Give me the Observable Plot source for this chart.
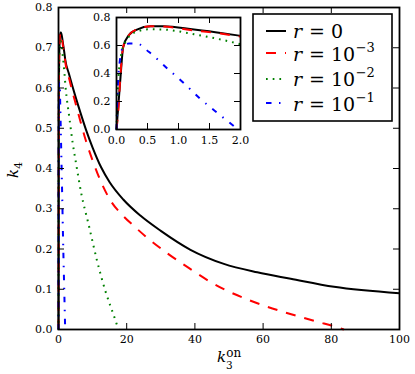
<!DOCTYPE html>
<html><head><meta charset="utf-8">
<script src="https://cdn.jsdelivr.net/npm/d3@7"></script>
<script src="https://cdn.jsdelivr.net/npm/@observablehq/plot@0.6"></script>
<style>
body{margin:0;background:#fff;}
#wrap{position:relative;width:415px;height:374px;font-family:"DejaVu Serif","Liberation Serif",serif;}
#wrap svg{position:absolute;}
</style></head><body><div id="wrap"></div>
<script>
// ---- data ----
const seriesNames = ["r = 0", "r = 10^-3", "r = 10^-2", "r = 10^-1"];
const seriesBase = ["0", "10", "10", "10"];
const seriesExp = ["", "\u22123", "\u22122", "\u22121"];
const seriesColors = ["#000000", "#ff0000", "#008000", "#0000ff"];

const k3_r0 = [0,0.065,0.108,0.2,0.33,0.55,0.76,1.25,1.68,2.0,3,4,5,6.5,8,10,12.5,15,19,24,30,38.7,48.5,58.3,68.1,80.8,100];
const k4_r0 = [0,0.376,0.59,0.674,0.714,0.738,0.738,0.714,0.69,0.669,0.637,0.607,0.578,0.537,0.498,0.452,0.403,0.366,0.323,0.283,0.245,0.198,0.163,0.142,0.126,0.106,0.090];

const k3_r3 = [0,0.03,0.065,0.108,0.2,0.33,0.55,0.76,1.25,1.68,2.0,3,4,5,6.5,8,10,12.5,15,19,22,26,31.8,38.7,44.4,49.5,55.3,60.7,66.6,71,76,80.8,83.7];
const k4_r3 = [0,0.14,0.40,0.59,0.675,0.715,0.737,0.735,0.708,0.685,0.664,0.628,0.594,0.562,0.515,0.47,0.42,0.366,0.324,0.282,0.258,0.228,0.19,0.15,0.119,0.096,0.075,0.058,0.042,0.031,0.019,0.008,0];

const k3_r2 = [0,0.02,0.065,0.15,0.33,0.55,0.76,1.25,1.68,2.0,3.2,4.2,5.2,6.7,8.8,11.3,13.7,16.2,17.6];
const k4_r2 = [0,0.28,0.507,0.63,0.70,0.716,0.714,0.68,0.643,0.609,0.525,0.461,0.41,0.337,0.262,0.171,0.097,0.035,0];

const k3_r1 = [0,0.02,0.03,0.108,0.2,0.33,0.52,0.82,1.09,1.35,1.68,1.96];
const k4_r1 = [0,0.30,0.39,0.59,0.614,0.614,0.555,0.436,0.33,0.22,0.10,0];

const xTicksMain = [0,20,40,60,80,100];
const yTicksMain = [0,0.1,0.2,0.3,0.4,0.5,0.6,0.7,0.8];
const xTicksInset = [0,0.5,1.0,1.5,2.0];
const yTicksInset = [0,0.2,0.4,0.6,0.8];

// ---- styles ----
const dashes = [null, "10,9", "1.7,5", "5.5,7.5,1.5,7.5"];
const lineW = 2;

const allK3 = [k3_r0, k3_r3, k3_r2, k3_r1];
const allK4 = [k4_r0, k4_r3, k4_r2, k4_r1];
const tables = allK3.map((xs, i) => xs.map((x, j) => ({k3: x, k4: allK4[i][j], s: seriesNames[i]})));

const fmt1 = d3.format(".1f");
const font = "'DejaVu Serif', 'Liberation Serif', serif";

function lineMarks(filter) {
  return tables.map((t, i) => Plot.line(filter ? t.filter(filter) : t, {
    x: "k3", y: "k4", stroke: seriesColors[i], strokeWidth: lineW,
    strokeDasharray: dashes[i] || undefined, strokeLinecap: "butt",
    curve: "monotone-x"
  }));
}

// ---- main plot ----
const W = 415, H = 374;
const mL = 58, mR = 16, mT = 7, mB = 45;
const iW = W - mL - mR, iH = H - mT - mB;
const tk = 6;
const main = Plot.plot({
  width: W, height: H, marginLeft: mL, marginRight: mR, marginTop: mT, marginBottom: mB,
  style: {fontFamily: font, fontSize: "11px", color: "#000", background: "transparent", overflow: "visible"},
  x: {domain: [0, 100]},
  y: {domain: [0, 0.8]},
  marks: [
    ...lineMarks(null),
    Plot.tickX(xTicksMain, {x: d => d, insetTop: iH - tk, stroke: "#000", strokeWidth: 1}),
    Plot.tickX(xTicksMain, {x: d => d, insetBottom: iH - tk, stroke: "#000", strokeWidth: 1}),
    Plot.tickY(yTicksMain, {y: d => d, insetRight: iW - tk, stroke: "#000", strokeWidth: 1}),
    Plot.tickY(yTicksMain, {y: d => d, insetLeft: iW - tk, stroke: "#000", strokeWidth: 1}),
    Plot.frame({stroke: "#000", strokeWidth: 1.8}),
    Plot.axisX(xTicksMain, {tickSize: 0, tickPadding: 6, label: null, tickFormat: d => String(d)}),
    Plot.axisY(yTicksMain, {tickSize: 0, tickPadding: 6, label: null, tickFormat: fmt1})
  ]
});
main.style.left = "0px"; main.style.top = "0px";
document.getElementById("wrap").appendChild(main);

// ---- inset ----
const sL = 30, sR = 12, sT = 5, sB = 22, sW = 166, sH = 139;
const siW = sW - sL - sR, siH = sH - sT - sB;
const inset = Plot.plot({
  width: sW, height: sH, marginLeft: sL, marginRight: sR, marginTop: sT, marginBottom: sB,
  style: {fontFamily: font, fontSize: "11px", color: "#000", background: "transparent", overflow: "visible"},
  x: {domain: [0, 2]},
  y: {domain: [0, 0.8]},
  marks: [
    Plot.frame({fill: "#fff", stroke: "none"}),
    ...lineMarks(d => d.k3 <= 2),
    Plot.tickX(xTicksInset, {x: d => d, insetTop: siH - tk, stroke: "#000", strokeWidth: 1}),
    Plot.tickX(xTicksInset, {x: d => d, insetBottom: siH - tk, stroke: "#000", strokeWidth: 1}),
    Plot.tickY(yTicksInset, {y: d => d, insetRight: siW - tk, stroke: "#000", strokeWidth: 1}),
    Plot.tickY(yTicksInset, {y: d => d, insetLeft: siW - tk, stroke: "#000", strokeWidth: 1}),
    Plot.frame({stroke: "#000", strokeWidth: 1.8}),
    Plot.axisX(xTicksInset, {tickSize: 0, tickPadding: 7, label: null, tickFormat: fmt1}),
    Plot.axisY(yTicksInset, {tickSize: 0, tickPadding: 6, label: null, tickFormat: fmt1})
  ]
});
inset.style.left = (116 - sL) + "px"; inset.style.top = (17 - sT) + "px";
document.getElementById("wrap").appendChild(inset);

// ---- overlay: axis titles and legend ----
const ov = d3.select("#wrap").append("svg")
  .attr("width", W).attr("height", H).style("left", "0px").style("top", "0px")
  .style("font-family", font).style("overflow", "visible");

// x label k_3^on
const xl = ov.append("text").attr("x", 217).attr("y", 361.5).attr("fill", "#000");
xl.append("tspan").attr("font-style", "italic").attr("font-size", 15).text("k");
xl.append("tspan").attr("font-size", 10.5).attr("dy", 7).text("3");
xl.append("tspan").attr("font-size", 12).attr("dx", -6.5).attr("dy", -11.5).text("on");

// y label k_4
const yl = ov.append("text").attr("transform", "translate(18,170) rotate(-90)")
  .attr("text-anchor", "middle").attr("fill", "#000");
yl.append("tspan").attr("font-style", "italic").attr("font-size", 15).text("k");
yl.append("tspan").attr("font-size", 10.5).attr("dy", 3.5).text("4");

// legend
const lg = ov.append("g");
lg.append("rect").attr("x", 253).attr("y", 14).attr("width", 139).attr("height", 107)
  .attr("fill", "#fff").attr("stroke", "#000").attr("stroke-width", 1.6);
const rowLine = [31, 53, 79, 103];
const rowBase = [38, 61, 86, 111];
seriesNames.forEach((name, i) => {
  const ln = lg.append("line").attr("x1", 266).attr("x2", 286).attr("y1", rowLine[i]).attr("y2", rowLine[i])
    .attr("stroke", seriesColors[i]).attr("stroke-width", lineW).attr("stroke-linecap", "butt");
  if (dashes[i]) ln.attr("stroke-dasharray", dashes[i]);
  lg.append("text").attr("x", 293).attr("y", rowBase[i]).attr("font-size", 19)
    .attr("font-style", "italic").attr("fill", "#000").text("r");
  lg.append("text").attr("x", 317).attr("y", rowBase[i]).attr("font-size", 19)
    .attr("text-anchor", "middle").attr("fill", "#000").text("=");
  const t = lg.append("text").attr("x", 331).attr("y", rowBase[i]).attr("font-size", 19).attr("fill", "#000");
  t.append("tspan").text(seriesBase[i]);
  if (seriesExp[i]) t.append("tspan").attr("font-size", 13).attr("dy", -9).attr("dx", 0.5).text(seriesExp[i]);
});
</script></body></html>
